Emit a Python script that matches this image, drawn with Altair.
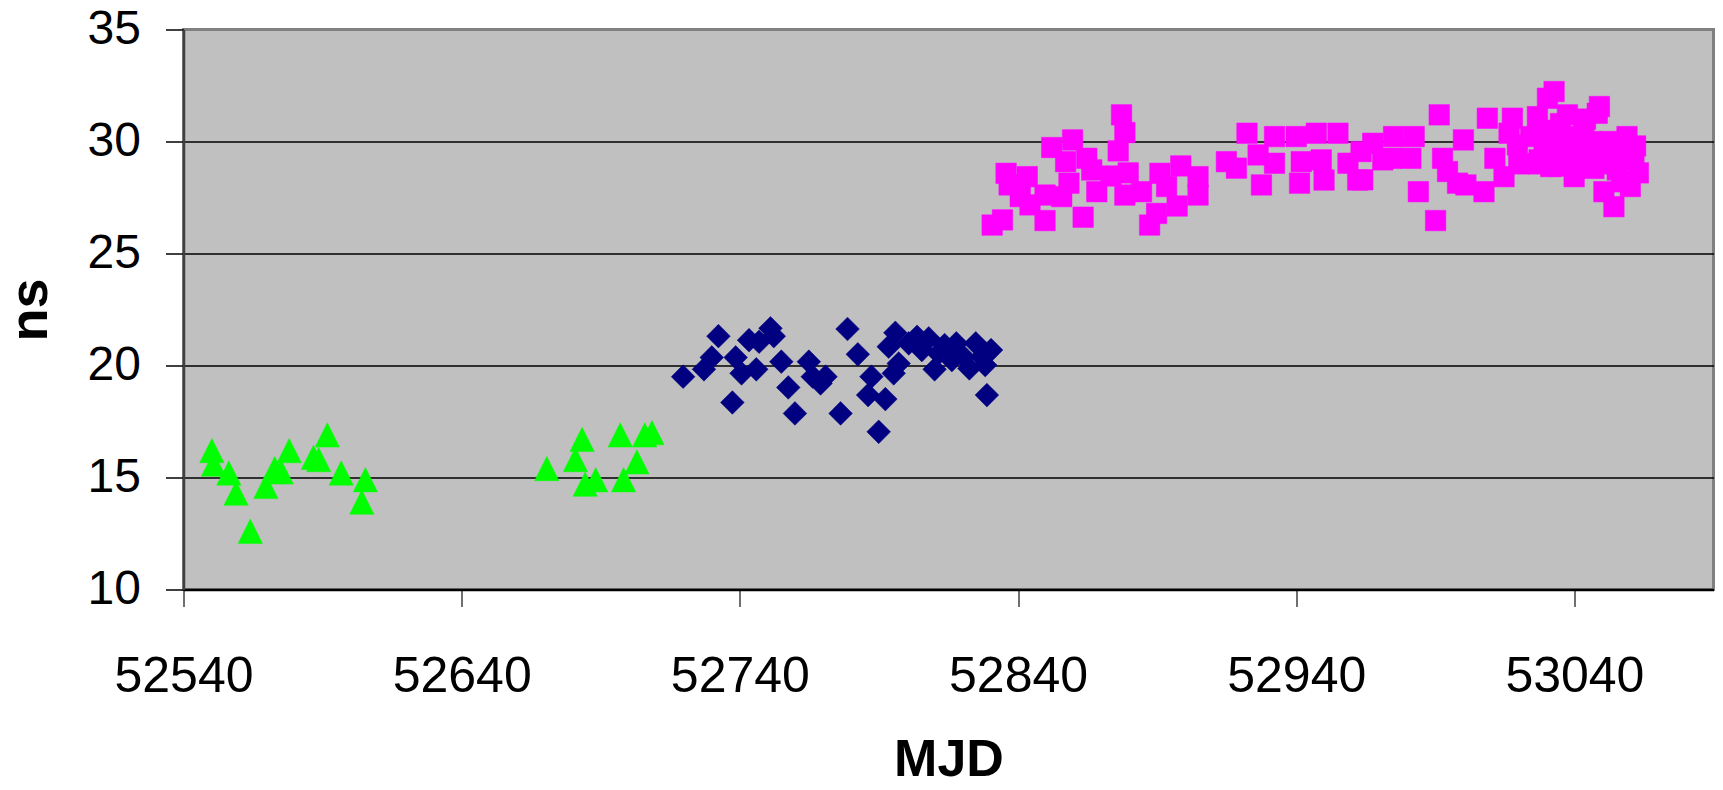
import altair as alt
import pandas as pd

# Green triangles
tri_mjd = [52550.2, 52550.8, 52556.3, 52558.9, 52564.0, 52569.6, 52572.8, 52575.1, 52578.0, 52586.7,
           52588.6, 52591.7, 52596.7, 52605.4, 52604.1,
           52670.6, 52680.9, 52683.3, 52684.4, 52688.2, 52697.0, 52698.2, 52703.0, 52705.8, 52708.4]
tri_ns = [16.2, 15.6, 15.2, 14.3, 12.6, 14.6, 15.4, 15.25, 16.2, 15.9,
          15.8, 16.9, 15.2, 14.9, 13.9,
          15.4, 15.8, 16.7, 14.7, 14.9, 16.9, 14.9, 15.7, 16.9, 17.0]

# Navy diamonds
dia_mjd = [52719.6, 52727.1, 52729.9, 52732.3, 52737.3, 52738.5, 52740.6, 52743.3, 52745.9, 52746.9,
           52751.0, 52752.2, 52754.9, 52757.4, 52759.8, 52764.8, 52766.2, 52769.0, 52770.8, 52776.2,
           52778.7, 52782.4, 52787.3, 52786.1, 52789.9, 52792.3, 52793.5, 52795.3, 52795.9, 52797.1,
           52800.7, 52803.7, 52805.4, 52807.9, 52810.0, 52811.4, 52813.6, 52816.2, 52817.8, 52820.4,
           52822.5, 52824.8, 52827.0, 52828.8, 52830.3, 52828.2]
dia_ns = [19.5, 19.83, 20.36, 21.31, 18.35, 20.36, 19.65, 21.13, 19.83, 21.06,
          21.66, 21.31, 20.17, 19.02, 17.86, 20.17, 19.5, 19.2, 19.5, 17.86,
          21.63, 20.5, 19.5, 18.68, 17.04, 18.5, 20.84, 19.65, 21.46, 20.09,
          20.99, 21.28, 20.69, 21.21, 19.83, 20.54, 20.91, 20.24, 20.99, 20.39,
          19.87, 20.99, 20.39, 18.68, 20.69, 20.02]

# Magenta squares
sq_mjd = [52830.7, 52834.4, 52835.7, 52836.8, 52843.3, 52840.8, 52844.3, 52849.7, 52849.7, 52852.1,
          52855.7, 52857.1, 52859.6, 52858.3, 52863.4, 52864.7, 52866.5, 52868.3, 52873.4, 52876.0,
          52877.2, 52878.4, 52879.6, 52878.4, 52884.4, 52887.3, 52889.8, 52891.0, 52893.4, 52897.2,
          52898.5, 52904.7, 52904.7, 52914.9, 52918.5, 52922.3, 52927.5, 52926.3, 52932.2, 52932.2,
          52940.0, 52941.2, 52941.8, 52947.2, 52949.0, 52950.0, 52955.0, 52958.6, 52962.1, 52963.3,
          52967.5,
          52963.9, 52971.1, 52975.0, 52974.1, 52982.4, 52981.2, 52991.4, 52983.9, 52992.6, 52990.1,
          53000.1, 52994.4, 52998.0, 53001.0, 53007.5, 53008.7, 53011.4, 53014.7, 53017.7, 53016.5,
          53019.5, 53026.7, 53027.3, 53030.3, 53032.7, 53031.5, 53037.5, 53039.9, 53036.3, 53043.4,
          53048.2, 53049.0, 53045.8, 53050.6, 53054.2, 53058.9, 53060.1, 53061.4, 53029.1, 53033.9,
          53041.0, 53050.6, 53055.4, 53024.3,
          53028, 53032, 53035, 53038, 53040, 53042, 53044, 53046, 53047, 53052,
          53053, 53056, 53057, 53062, 53063, 53034, 53027, 53020]
sq_ns = [26.27, 26.5, 28.58, 28.06, 28.43, 27.54, 27.17, 27.61, 26.47, 29.73,
         27.54, 29.1, 30.07, 28.14, 26.62, 29.25, 28.73, 27.76, 28.46, 29.58,
         31.19, 30.4, 28.6, 27.61, 27.76, 26.27, 26.79, 28.58, 27.99, 27.12,
         28.91, 28.43, 27.61, 29.1, 28.81, 30.37, 28.06, 29.4, 30.22, 29.03,
         30.22, 28.14, 29.1, 30.37, 29.18, 28.28, 30.37, 29.03, 28.28, 29.55,
         29.92,
         28.29, 29.18, 30.22, 29.25, 30.22, 29.25, 31.19, 27.76, 29.25, 26.47,
         30.07, 28.66, 28.14, 28.06, 27.76, 31.04, 29.25, 28.43, 31.04, 30.37,
         29.85, 31.11, 29.18, 31.93, 32.23, 28.88, 31.19, 28.43, 29.77, 30.52,
         31.26, 31.56, 29.33, 27.76, 27.09, 30.22, 27.99, 29.18, 29.77, 30.22,
         30.22, 29.62, 28.73, 30.22,
         30.5, 29.5, 30.8, 29.0, 30.0, 29.3, 31.0, 30.0, 28.8, 29.0,
         30.0, 29.5, 28.2, 29.8, 28.6, 28.9, 29.0, 29.0]

x_ticks = [52540, 52640, 52740, 52840, 52940, 53040]
y_ticks = [10, 15, 20, 25, 30, 35]

FONT = "Liberation Sans"

tri_df = pd.DataFrame({"MJD": tri_mjd, "ns": tri_ns})
dia_df = pd.DataFrame({"MJD": dia_mjd, "ns": dia_ns})
sq_df = pd.DataFrame({"MJD": sq_mjd, "ns": sq_ns})

x_enc = alt.X("MJD:Q",
              scale=alt.Scale(domain=[52540, 53090], nice=False, zero=False),
              axis=alt.Axis(values=x_ticks, format="d", title="MJD", grid=False,
                            labelFont=FONT, labelFontSize=50, labelColor="black",
                            labelBaseline="alphabetic", labelPadding=85,
                            labelFlush=False, labelOverlap=False,
                            tickSize=17, tickColor="#404040", tickWidth=1.5,
                            domainColor="black", domainWidth=2.5,
                            titleFont=FONT, titleFontSize=52, titleFontWeight="bold",
                            titleColor="black", titleBaseline="alphabetic",
                            titleAlign="center", titleX=765, titleY=186))
y_enc = alt.Y("ns:Q",
              scale=alt.Scale(domain=[10, 35], nice=False, zero=False),
              axis=alt.Axis(values=y_ticks, title="ns", grid=True,
                            gridColor={"condition": {"test": "datum.value >= 35", "value": "#808080"},
                                       "value": "black"},
                            gridWidth=1.5,
                            labelFont=FONT, labelFontSize=48, labelColor="black",
                            labelPadding=25, labelFlush=False, labelOverlap=False,
                            tickSize=18, tickColor="black", tickWidth=1.5,
                            domainColor="#404040", domainWidth=2.5,
                            titleFont=FONT, titleFontSize=54, titleFontWeight="bold",
                            titleColor="black", titleAngle=270, titleBaseline="alphabetic",
                            titleAlign="center", titleX=-137, titleY=280))

tri = alt.Chart(tri_df).mark_point(
    shape="M0,-1L1,1L-1,1Z", size=590, filled=True, opacity=1,
    color="#00FF00", stroke="#00FF00", strokeWidth=0.5
).encode(x=x_enc, y=y_enc)

dia = alt.Chart(dia_df).mark_point(
    shape="diamond", size=560, filled=True, opacity=1,
    color="#000080", stroke="#000080", strokeWidth=0.5
).encode(x=x_enc, y=y_enc)

sq = alt.Chart(sq_df).mark_point(
    shape="square", size=420, filled=True, opacity=1,
    color="#FF00FF", stroke="#FF00FF", strokeWidth=0.5
).encode(x=x_enc, y=y_enc)

chart = alt.layer(tri, dia, sq).properties(
    width=1530, height=560,
    padding={"left": 175.5, "top": 21.5, "right": 1.5, "bottom": 190},
    autosize=alt.AutoSizeParams(type="none"),
    background="white",
).configure_view(
    fill="#C0C0C0", stroke="#808080", strokeWidth=3
)

chart.save("out.html", embed_options={"renderer": "svg", "actions": False})
